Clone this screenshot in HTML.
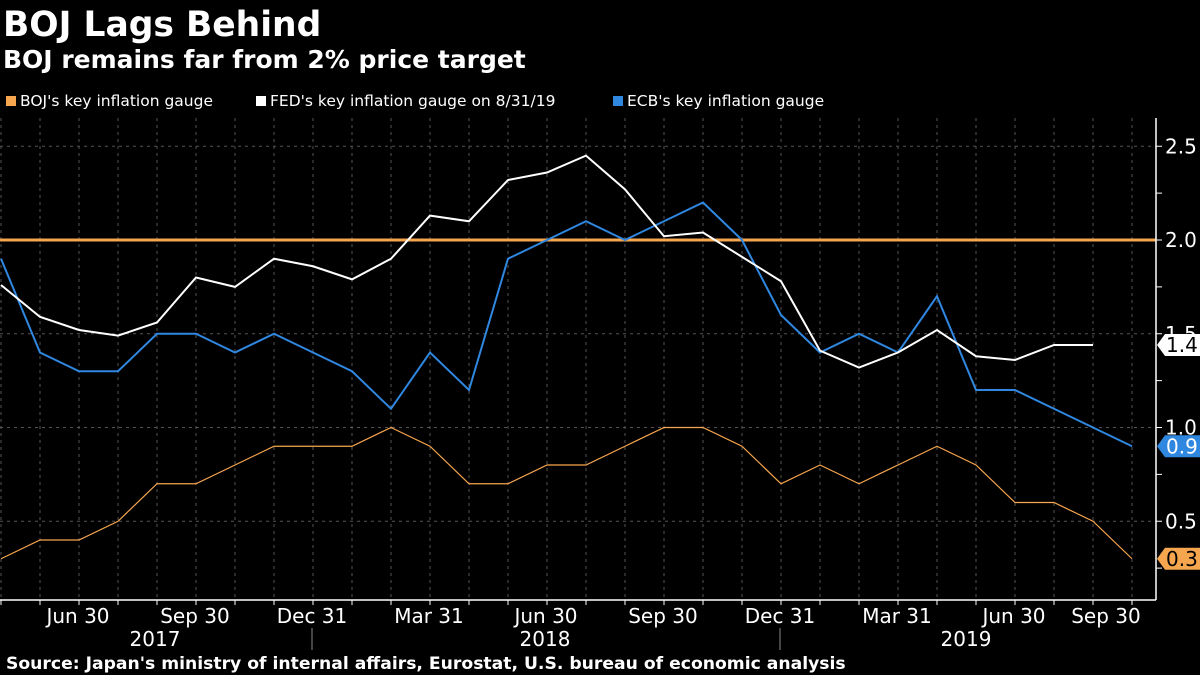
<!DOCTYPE html>
<html><head><meta charset="utf-8"><style>
body{margin:0;background:#000;width:1200px;height:675px;overflow:hidden;font-family:"DejaVu Sans","Liberation Sans",sans-serif;color:#fff}
</style></head><body>
<svg width="1200" height="675" xmlns="http://www.w3.org/2000/svg" style="position:absolute;left:0;top:0">
<text x="3" y="36" font-size="34.5" font-weight="bold" fill="#fff" font-family="DejaVu Sans, sans-serif">BOJ Lags Behind</text>
<text x="3" y="68" font-size="25" font-weight="bold" fill="#fff" font-family="DejaVu Sans, sans-serif">BOJ remains far from 2% price target</text>
<g font-size="15.5" fill="#fff">
<rect x="6" y="96" width="10" height="10" fill="#f6a64e"/><text x="20" y="106">BOJ's key inflation gauge</text>
<rect x="256" y="96" width="10" height="10" fill="#fff"/><text x="270" y="106">FED's key inflation gauge on 8/31/19</text>
<rect x="613" y="96" width="10" height="10" fill="#2f87e0"/><text x="627" y="106">ECB's key inflation gauge</text>
</g>
<g id="grid"></g><g id="series"></g><g id="axes"></g>
<text x="6" y="669" font-size="17.2" font-weight="bold" fill="#fff">Source: Japan's ministry of internal affairs, Eurostat, U.S. bureau of economic analysis</text>
</svg>
<script>
const boj=[0.3,0.4,0.4,0.5,0.7,0.7,0.8,0.9,0.9,0.9,1.0,0.9,0.7,0.7,0.8,0.8,0.9,1.0,1.0,0.9,0.7,0.8,0.7,0.8,0.9,0.8,0.6,0.6,0.5,0.3];
const ecb=[1.9,1.4,1.3,1.3,1.5,1.5,1.4,1.5,1.4,1.3,1.1,1.4,1.2,1.9,2.0,2.1,2.0,2.1,2.2,2.0,1.6,1.4,1.5,1.4,1.7,1.2,1.2,1.1,1.0,0.9];
const fed=[1.76,1.59,1.52,1.49,1.56,1.80,1.75,1.90,1.86,1.79,1.90,2.13,2.10,2.32,2.36,2.45,2.27,2.02,2.04,1.91,1.78,1.41,1.32,1.40,1.52,1.38,1.36,1.44,1.44];
const xLabels=["Jun 30","Sep 30","Dec 31","Mar 31","Jun 30","Sep 30","Dec 31","Mar 31","Jun 30","Sep 30"];
const xLabelIdx=[2,5,8,11,14,17,20,23,26,29];
const years=["2017","2018","2019"];
const yTicks=[0.5,1.0,1.5,2.0,2.5];
const target=2.0;
const NS="http://www.w3.org/2000/svg";
const X=i=>1+i*39, Y=v=>615-v*187.5;
function mk(p,t,a){const e=document.createElementNS(NS,t);for(const k in a)e.setAttribute(k,a[k]);p.appendChild(e);return e;}
const grid=document.getElementById('grid'),ser=document.getElementById('series'),ax=document.getElementById('axes');
for(let i=0;i<30;i++){const l=mk(grid,'line',{x1:X(i),x2:X(i),y1:118,y2:600,stroke:'#555','stroke-dasharray':'3,4','stroke-width':1});
}
yTicks.forEach(v=>{const l=mk(grid,'line',{x1:0,x2:1156,y1:Y(v),y2:Y(v),stroke:'#555','stroke-dasharray':'3,4'});
});
const t=mk(ser,'line',{x1:0,x2:1156,y1:Y(target),y2:Y(target),stroke:'#f6a64e','stroke-width':3});

function line(d,c,w,n){const p=mk(ser,'polyline',{points:d.map((v,i)=>X(i)+','+Y(v)).join(' '),fill:'none',stroke:c,'stroke-width':w});
}
line(boj,'#f6a64e',1.2,'boj-line');line(ecb,'#2f87e0',2,'ecb-line');line(fed,'#fff',2,'fed-line');
let a=mk(ax,'line',{x1:1156,x2:1156,y1:118,y2:600,stroke:'#fff','stroke-width':1.5});
a=mk(ax,'line',{x1:0,x2:1156,y1:600,y2:600,stroke:'#fff','stroke-width':1.5});
for(let v=0.25;v<=2.6;v+=0.25){mk(ax,'line',{x1:1156,x2:1162,y1:Y(v),y2:Y(v),stroke:'#fff'});}
yTicks.forEach(v=>{const e=mk(ax,'text',{x:1165,y:Y(v)+7,'font-size':20,fill:'#fff'});e.textContent=v.toFixed(1);
});
for(let i=0;i<30;i++)mk(ax,'line',{x1:X(i),x2:X(i),y1:600,y2:605,stroke:'#fff'});
xLabels.forEach((s,k)=>{let x=X(xLabelIdx[k])-1;if(x+34>1140)x=1140-34;
const e=mk(ax,'text',{x:x,y:623,'font-size':20,fill:'#fff','text-anchor':'middle'});e.textContent=s;
});
[155,545,966].forEach((x,k)=>{const e=mk(ax,'text',{x:x,y:646,'font-size':20,fill:'#fff','text-anchor':'middle'});e.textContent=years[k];
});
[312,780].forEach(x=>mk(ax,'line',{x1:x,x2:x,y1:628,y2:650,stroke:'#888'}));
function tag(v,bg,fg,n){const y=Y(v);mk(ax,'path',{d:`M1157,${y} L1165,${y-11} L1200,${y-11} L1200,${y+11} L1165,${y+11} Z`,fill:bg});
const e=mk(ax,'text',{x:1166,y:y+7,'font-size':20,fill:fg});e.textContent=v.toFixed(1);
}
tag(fed[fed.length-1],'#fff','#000','fed-last-value');tag(ecb[ecb.length-1],'#2f87e0','#fff','ecb-last-value');tag(boj[boj.length-1],'#f6a64e','#000','boj-last-value');
</script>
</body></html>
